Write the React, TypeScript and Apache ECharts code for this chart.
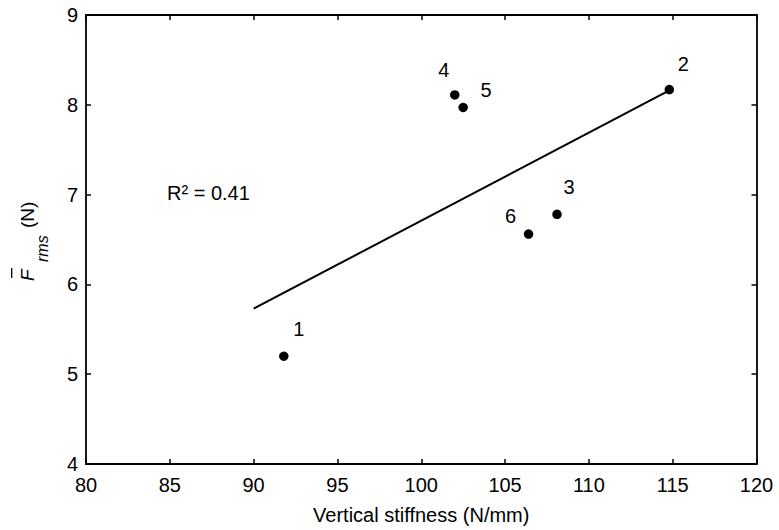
import React, { useEffect, useRef } from 'react';
import * as echarts from 'echarts';

// Data
const stiffness = [91.8, 114.8, 108.1, 102.0, 102.5, 106.4];
const forceRms = [5.2, 8.17, 6.78, 8.11, 7.97, 6.56];
const pointLabels = ['1', '2', '3', '4', '5', '6'];
const fitX = [90, 114.8];
const fitY = [5.73, 8.16];
const rSquaredText = 'R² = 0.41';
const xTitle = 'Vertical stiffness (N/mm)';

// Label offsets (style, px) relative to each point
const labelOffsets = [
  [15, -27],
  [14, -26],
  [12, -27],
  [-11, -25],
  [23, -17],
  [-18, -18],
];

const FONT = '"Liberation Sans", Arial, Helvetica, sans-serif';
const BLACK = '#000';

export default function App() {
  const ref = useRef<HTMLDivElement>(null);

  useEffect(() => {
    if (!ref.current) return;
    const chart = echarts.init(ref.current, null, { renderer: 'svg' });

    const axisCommon = {
      type: 'value' as const,
      splitLine: { show: false },
      axisLine: { show: true, onZero: false, lineStyle: { color: BLACK, width: 1.8 } },
      axisTick: { show: true, inside: true, length: 5, lineStyle: { color: BLACK, width: 1.5 } },
    };

    const scatterData = stiffness.map((x, i) => ({
      value: [x, forceRms[i]],
      label: {
        show: true,
        formatter: pointLabels[i],
        position: 'inside',
        offset: labelOffsets[i],
        color: BLACK,
        opacity: 1,
        fontSize: 20,
        fontFamily: FONT,
      },
    }));

    const option = {
      animation: false,
      backgroundColor: '#fff',
      grid: { left: 86, top: 15, right: 22.5, bottom: 66, containLabel: false },
      xAxis: [
        {
          ...axisCommon,
          position: 'bottom',
          min: 80,
          max: 120,
          interval: 5,
          name: xTitle,
          nameLocation: 'middle',
          nameGap: 41,
          nameTextStyle: { color: BLACK, fontSize: 20, fontFamily: FONT },
          axisLabel: { color: BLACK, fontSize: 20, fontFamily: FONT, margin: 11 },
        },
        {
          ...axisCommon,
          position: 'top',
          min: 80,
          max: 120,
          interval: 5,
          axisLabel: { show: false },
        },
      ],
      yAxis: [
        {
          ...axisCommon,
          position: 'left',
          min: 4,
          max: 9,
          interval: 1,
          axisLabel: { color: BLACK, fontSize: 20, fontFamily: FONT, margin: 8 },
        },
        {
          ...axisCommon,
          position: 'right',
          min: 4,
          max: 9,
          interval: 1,
          axisLabel: { show: false },
        },
      ],
      series: [
        {
          type: 'line',
          data: fitX.map((x, i) => [x, fitY[i]]),
          showSymbol: false,
          symbol: 'none',
          lineStyle: { color: BLACK, width: 2, opacity: 1 },
          silent: true,
          z: 2,
        },
        {
          type: 'scatter',
          data: scatterData,
          symbol: 'circle',
          symbolSize: 9.5,
          itemStyle: { color: BLACK, opacity: 1 },
          emphasis: { disabled: true },
          z: 3,
        },
      ],
      graphic: [
        {
          type: 'text',
          x: 167,
          y: 193,
          style: {
            text: rSquaredText,
            fill: BLACK,
            fontSize: 20,
            fontFamily: FONT,
            align: 'left',
            verticalAlign: 'middle',
          },
        },
        {
          type: 'group',
          x: 26,
          y: 281,
          rotation: Math.PI / 2,
          children: [
            {
              type: 'text',
              x: 0,
              y: 1,
              style: {
                text: 'F',
                fill: BLACK,
                fontSize: 19,
                fontStyle: 'italic',
                fontFamily: FONT,
                align: 'left',
                verticalAlign: 'middle',
              },
            },
            {
              type: 'text',
              x: 19,
              y: 16,
              style: {
                text: 'rms',
                fill: BLACK,
                fontSize: 16,
                fontStyle: 'italic',
                fontFamily: FONT,
                align: 'left',
                verticalAlign: 'middle',
              },
            },
            {
              type: 'text',
              x: 53,
              y: 1,
              style: {
                text: '(N)',
                fill: BLACK,
                fontSize: 19,
                fontFamily: FONT,
                align: 'left',
                verticalAlign: 'middle',
              },
            },
            {
              type: 'line',
              shape: { x1: 3, y1: -14.3, x2: 13, y2: -14.3 },
              style: { stroke: BLACK, lineWidth: 1.3 },
            },
          ],
        },
      ],
    };

    chart.setOption(option as any);
    return () => chart.dispose();
  }, []);

  return (
    <div
      ref={ref}
      style={{ position: 'fixed', left: 0, top: 0, width: 779, height: 530, background: '#fff' }}
    />
  );
}
